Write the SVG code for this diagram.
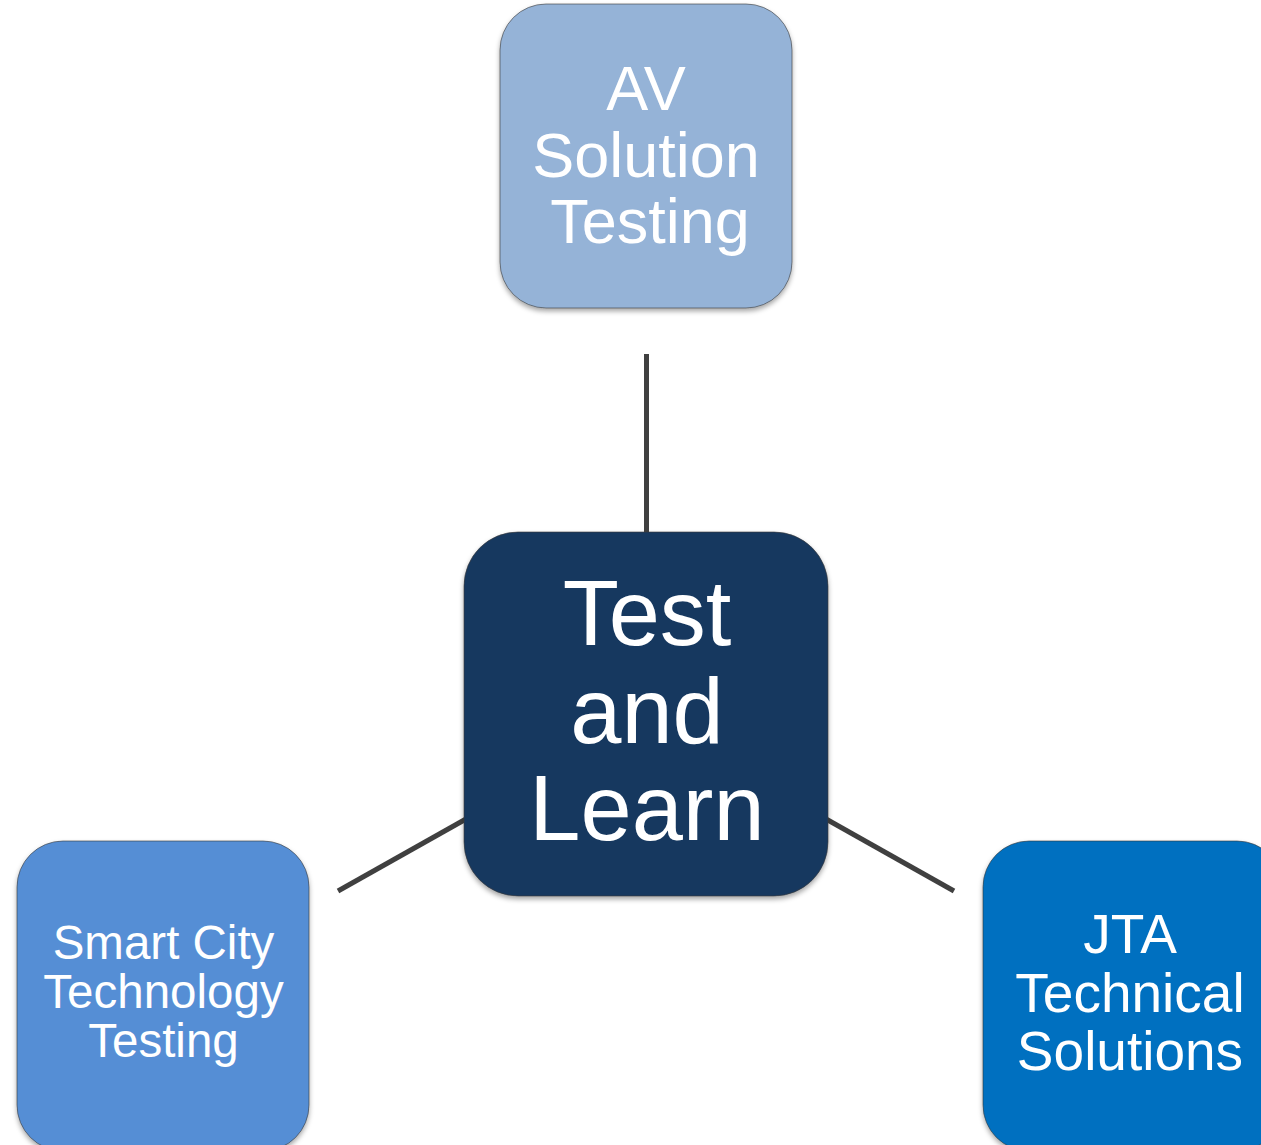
<svg xmlns="http://www.w3.org/2000/svg" width="1261" height="1145" viewBox="0 0 1261 1145">
<defs>
<filter id="sh" x="-10%" y="-10%" width="125%" height="125%">
<feDropShadow dx="0" dy="3" stdDeviation="2.5" flood-color="#000" flood-opacity="0.35"/>
</filter>
</defs>
<style>
.box{stroke:#3a3a3a;stroke-opacity:0.6;stroke-width:1;filter:url(#sh)}
.t{font-family:"Liberation Sans",Arial,sans-serif;fill:#fff;text-anchor:middle}
.c{stroke:#404040;stroke-width:5;fill:none}
</style>
<rect width="1261" height="1145" fill="#fff"/>
<g id="connectors">
<line class="c" x1="646.5" y1="354" x2="646.5" y2="534"/>
<line class="c" x1="338" y1="891" x2="466" y2="819"/>
<line class="c" x1="826" y1="819" x2="954" y2="891"/>
</g>
<g id="node-av">
<rect class="box" x="500" y="4" width="292" height="304" rx="46" fill="#95B3D7"/>
<text class="t" font-size="63" x="646" y="110">AV</text>
<text class="t" font-size="63" x="646" y="177">Solution</text>
<text class="t" font-size="63" x="650" y="243">Testing</text>
</g>
<g id="node-center">
<rect class="box" x="464" y="532" width="364" height="364" rx="54" fill="#17375E"/>
<text class="t" font-size="92" x="647" y="645">Test</text>
<text class="t" font-size="92" x="647" y="743">and</text>
<text class="t" font-size="92" x="647" y="840">Learn</text>
</g>
<g id="node-smart">
<rect class="box" x="17" y="841" width="292" height="310" rx="46" fill="#558ED5"/>
<text class="t" font-size="47.5" x="163.5" y="959">Smart City</text>
<text class="t" font-size="47.5" x="163.5" y="1008">Technology</text>
<text class="t" font-size="47.5" x="163.5" y="1057">Testing</text>
</g>
<g id="node-jta">
<rect class="box" x="983" y="841" width="300" height="310" rx="46" fill="#0070C0"/>
<text class="t" font-size="55" x="1130" y="953">JTA</text>
<text class="t" font-size="55" x="1130" y="1012">Technical</text>
<text class="t" font-size="55" x="1130" y="1070">Solutions</text>
</g>
</svg>
